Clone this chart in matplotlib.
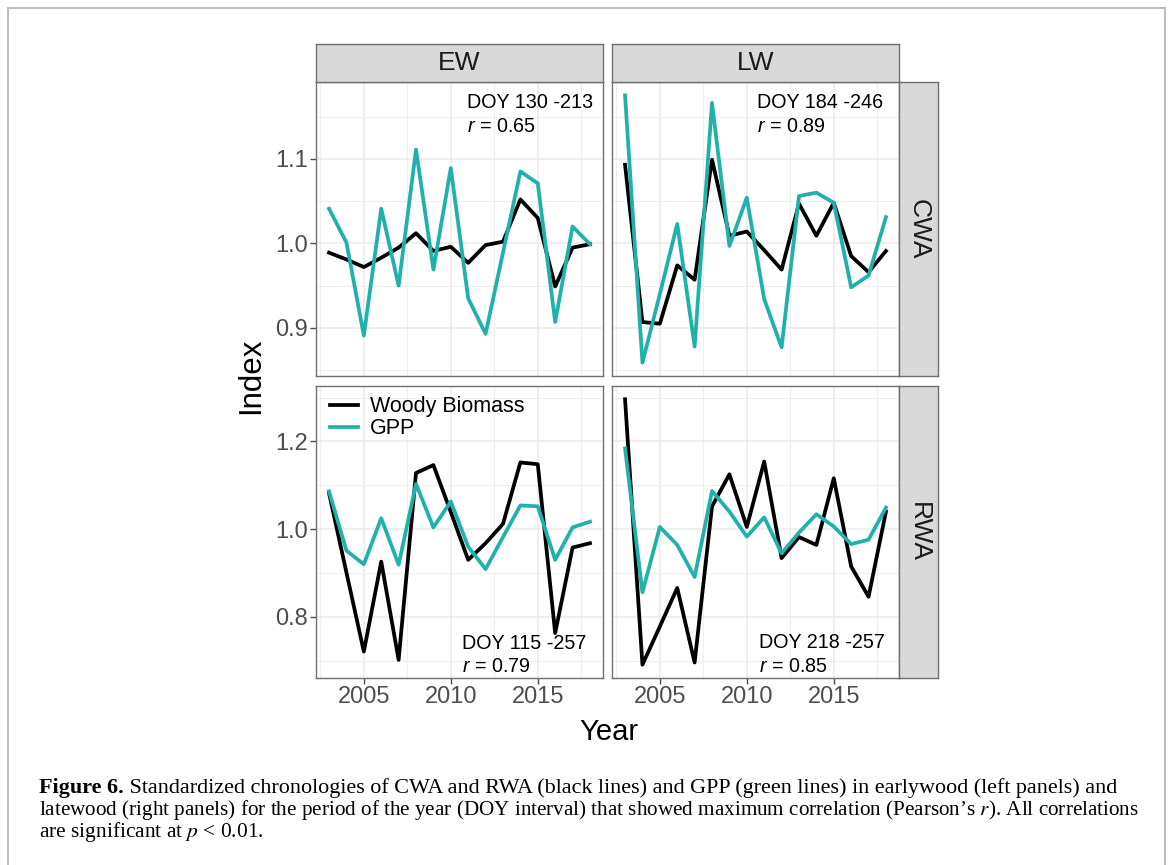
import matplotlib
matplotlib.use('Agg')
import matplotlib.pyplot as plt
from matplotlib.patches import Rectangle
from matplotlib.text import Annotation
from matplotlib.ticker import FormatStrFormatter

# Data (standardized index values, 2003-2018)
years = list(range(2003, 2019))

ew_cwa_wood = [0.989, 0.981, 0.972, 0.983, 0.995, 1.012, 0.991, 0.996,
               0.977, 0.998, 1.002, 1.052, 1.030, 0.949, 0.995, 0.999]
ew_cwa_gpp = [1.041, 1.001, 0.891, 1.041, 0.950, 1.111, 0.969, 1.089,
              0.935, 0.893, 0.989, 1.085, 1.071, 0.907, 1.020, 0.999]

lw_cwa_wood = [1.093, 0.907, 0.905, 0.974, 0.957, 1.099, 1.009, 1.014,
               0.992, 0.969, 1.047, 1.009, 1.048, 0.985, 0.966, 0.991]
lw_cwa_gpp = [1.175, 0.859, 0.940, 1.023, 0.878, 1.166, 0.997, 1.054,
              0.934, 0.877, 1.056, 1.060, 1.048, 0.948, 0.962, 1.031]

ew_rwa_wood = [1.082, 0.901, 0.721, 0.926, 0.702, 1.128, 1.146, 1.039,
               0.930, 0.968, 1.012, 1.152, 1.148, 0.763, 0.958, 0.968]
ew_rwa_gpp = [1.086, 0.951, 0.920, 1.025, 0.919, 1.103, 1.004, 1.063,
              0.960, 0.909, 0.982, 1.054, 1.052, 0.930, 1.004, 1.017]

lw_rwa_wood = [1.296, 0.691, 0.778, 0.866, 0.696, 1.052, 1.125, 1.005,
               1.154, 0.934, 0.982, 0.964, 1.116, 0.915, 0.846, 1.040]
lw_rwa_gpp = [1.184, 0.856, 1.005, 0.964, 0.891, 1.087, 1.040, 0.983,
              1.027, 0.945, 0.992, 1.034, 1.006, 0.966, 0.976, 1.049]

col_labels = ['EW', 'LW']
row_labels = ['CWA', 'RWA']
doy_labels = [['DOY 130 -213', 'DOY 184 -246'], ['DOY 115 -257', 'DOY 218 -257']]
r_labels = [['0.65', '0.89'], ['0.79', '0.85']]
row_ticks = [[0.9, 1.0, 1.1], [0.8, 1.0, 1.2]]

plt.rcParams['font.family'] = 'Liberation Sans'
plt.rcParams['mathtext.fontset'] = 'custom'
plt.rcParams['mathtext.rm'] = 'Liberation Sans'
plt.rcParams['mathtext.it'] = 'Liberation Sans:italic'

W, H = 1169, 865
fig = plt.figure(figsize=(W / 100, H / 100), dpi=100)


def box(x0, y0, x1, y1):
    return [x0 / W, 1 - y1 / H, (x1 - x0) / W, (y1 - y0) / H]


col_x = [(316, 603), (612, 899)]
row_y = [(82, 376), (386, 678)]
border = '#6F6F6F'
teal = 'lightseagreen'

data = [[(ew_cwa_wood, ew_cwa_gpp), (lw_cwa_wood, lw_cwa_gpp)],
        [(ew_rwa_wood, ew_rwa_gpp), (lw_rwa_wood, lw_rwa_gpp)]]

# ggplot-style 5% expansion
xr = years[-1] - years[0]
xlim = (years[0] - 0.05 * xr, years[-1] + 0.05 * xr)

# annotation positions (axes fraction)
txt_pos = [[(0.526, 0.929, 0.847), (0.504, 0.929, 0.847)],
           [(0.508, 0.117, 0.040), (0.512, 0.120, 0.038)]]

for i in range(2):
    allv = [v for pair in data[i] for s in pair for v in s]
    yr = max(allv) - min(allv)
    ylim = (min(allv) - 0.05 * yr, max(allv) + 0.05 * yr)
    for j in range(2):
        ax = fig.add_axes(box(col_x[j][0], row_y[i][0], col_x[j][1], row_y[i][1]))
        wood, gpp = data[i][j]
        ax.plot(years, wood, color='black', lw=2.7, label='Woody Biomass', zorder=3)
        ax.plot(years, gpp, color=teal, lw=2.7, label='GPP', zorder=3)
        ax.set_xlim(xlim)
        ax.set_ylim(ylim)
        ax.set_xticks([2005, 2010, 2015])
        ax.set_xticks([2002.5, 2007.5, 2012.5, 2017.5], minor=True)
        ax.set_yticks(row_ticks[i])
        step = row_ticks[i][1] - row_ticks[i][0]
        ax.set_yticks([row_ticks[i][0] - step / 2] + [t + step / 2 for t in row_ticks[i]], minor=True)
        ax.yaxis.set_major_formatter(FormatStrFormatter('%.1f'))
        ax.grid(which='major', color='#EBEBEB', lw=1.1)
        ax.grid(which='minor', color='#EFEFEF', lw=0.8)
        ax.set_axisbelow(True)
        for s in ax.spines.values():
            s.set_color(border)
            s.set_linewidth(1.0)
        ax.tick_params(which='minor', length=0)
        ax.tick_params(which='major', length=4, width=1, color='#4D4D4D',
                       labelcolor='#4D4D4D', labelsize=17, pad=2)
        if j == 1:
            ax.tick_params(left=False, labelleft=False)
        if i == 0:
            ax.tick_params(bottom=False, labelbottom=False)
        px, py1, py2 = txt_pos[i][j]
        ax.text(px, py1, doy_labels[i][j], transform=ax.transAxes, fontsize=14.2,
                ha='left', va='center')
        ax.text(px, py2, '$r$ = ' + r_labels[i][j], transform=ax.transAxes,
                fontsize=14.2, ha='left', va='center')
        if i == 1 and j == 0:
            ax.legend(loc='upper left', bbox_to_anchor=(0.05, 0.965), frameon=False,
                      fontsize=15.5, handlelength=1.3, handletextpad=0.55,
                      labelspacing=0.05, borderaxespad=0, borderpad=0)

# facet strips
for j in range(2):
    sax = fig.add_axes(box(col_x[j][0], 44, col_x[j][1], 82))
    sax.set_facecolor('#D9D9D9')
    sax.set_xticks([])
    sax.set_yticks([])
    for s in sax.spines.values():
        s.set_color(border)
        s.set_linewidth(1.0)
    sax.text(0.5, 0.5, col_labels[j], transform=sax.transAxes, fontsize=19,
             color='#1A1A1A', ha='center', va='center')
for i in range(2):
    sax = fig.add_axes(box(899, row_y[i][0], 938, row_y[i][1]))
    sax.set_facecolor('#D9D9D9')
    sax.set_xticks([])
    sax.set_yticks([])
    for s in sax.spines.values():
        s.set_color(border)
        s.set_linewidth(1.0)
    sax.text(0.5, 0.5, row_labels[i], transform=sax.transAxes, fontsize=19,
             color='#1A1A1A', ha='center', va='center', rotation=-90)

fig.text(609 / W, 1 - 740 / H, 'Year', fontsize=21, ha='center', va='baseline')
fig.text(251 / W, 1 - 376 / H, 'Index', fontsize=22.5, ha='center', va='center',
         rotation=90)

# caption
serif = 'Liberation Serif'
t_bold = fig.text(39 / W, 1 - 793 / H, 'Figure 6.', fontsize=15.9, weight='bold',
                  family=serif, ha='left', va='baseline')
fig.add_artist(Annotation(' Standardized chronologies of CWA and RWA (black lines) and GPP '
                          '(green lines) in earlywood (left panels) and',
                          xy=(1, 1 - 793 / H), xycoords=(t_bold, 'figure fraction'),
                          fontsize=15.9, family=serif, ha='left', va='baseline',
                          annotation_clip=False))
fig.text(39 / W, 1 - 815 / H, 'latewood (right panels) for the period of the year (DOY interval) '
         'that showed maximum correlation (Pearson\u2019s $r$). All correlations',
         fontsize=15.25, family=serif, math_fontfamily='stix', ha='left', va='baseline')
fig.text(39 / W, 1 - 837 / H, 'are significant at $p$ < 0.01.', fontsize=15.4,
         family=serif, math_fontfamily='stix', ha='left', va='baseline')

fig.add_artist(Rectangle((8 / W, -0.02), (1165 - 8) / W, 1 - 8 / H + 0.02,
                         transform=fig.transFigure, fill=False, ec='#BDBDBD', lw=1.5))

fig.savefig('out.png', dpi=100)
